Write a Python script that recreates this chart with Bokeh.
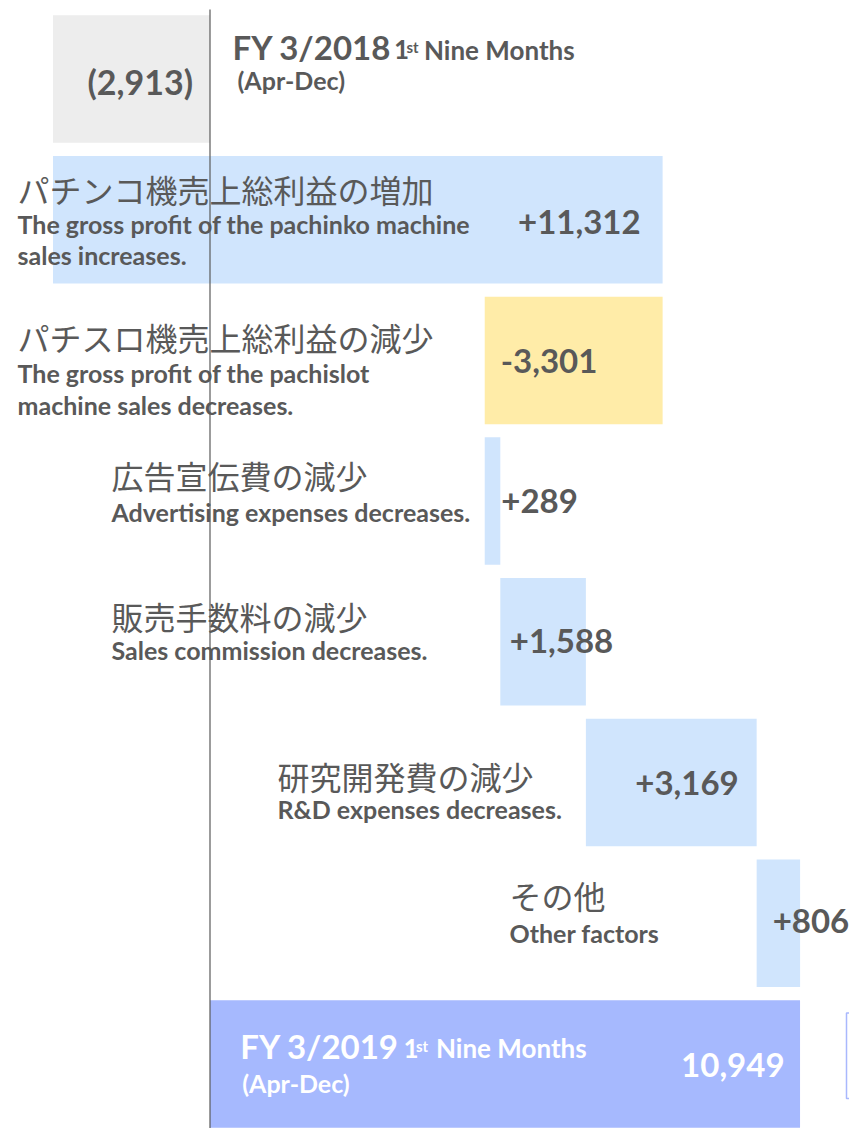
from bokeh.plotting import figure
from bokeh.models import ColumnDataSource, Range1d
from bokeh.core.properties import value
from bokeh.embed import file_html
from bokeh.resources import INLINE

# ---------------- data ----------------
kinds = ["total", "delta", "delta", "delta", "delta", "delta", "delta", "total"]
values = [-2913, 11312, -3301, 289, 1588, 3169, 806, 10949]
value_labels = ["(2,913)", "+11,312", "-3,301", "+289", "+1,588", "+3,169", "+806", "10,949"]
steps_ja = ["", "パチンコ機売上総利益の増加", "パチスロ機売上総利益の減少", "広告宣伝費の減少",
            "販売手数料の減少", "研究開発費の減少", "その他", ""]
steps_en = [[], ["The gross profit of the pachinko machine", "sales increases."],
            ["The gross profit of the pachislot", "machine sales decreases."],
            ["Advertising expenses decreases."], ["Sales commission decreases."],
            ["R&D expenses decreases."], ["Other factors"], []]
period_fy = ["FY 3/2018", "FY 3/2019"]
period_sup = ["1", "st", "Nine Months"]
period_sub = ["(Apr-Dec)", "(Apr-Dec)"]

# ---------------- layout / style ----------------
W, H = 849, 1128
PX = 0.05389            # pixels per unit
ZERO = 209.5            # pixel position of 0
PITCH, FIRST = 140.7, 78.5
GRAY = "#595959"
FONT = value("Lato")
JFONT = value("Noto Sans CJK JP")

def px2x(px):
    return (px - ZERO) / PX

def py2y(py):
    return (py - FIRST) / PITCH

def mid(dy_base, size):
    # convert an alphabetic-baseline offset into a 'middle' offset
    return dy_base - 0.387 * size

# waterfall geometry from the values
lefts, rights = [], []
running = 0
for k, v in zip(kinds, values):
    if k == "total":
        lefts.append(min(0, v)); rights.append(max(0, v)); running = v
    else:
        lefts.append(min(running, running + v)); rights.append(max(running, running + v)); running += v
rows = list(range(len(values)))
colors = []
for i, (k, v) in enumerate(zip(kinds, values)):
    if k == "total":
        colors.append("#ededed" if i == 0 else "#a6b9fe")
    else:
        colors.append("#d0e5fd" if v > 0 else "#ffeca8")

p = figure(width=W, height=H, output_backend="svg", toolbar_location=None,
           x_range=Range1d(px2x(0), px2x(W)),
           y_range=Range1d(py2y(H), py2y(0)),
           x_axis_location=None, y_axis_location=None, min_border=0,
           outline_line_color=None, background_fill_color="white", border_fill_color="white")
p.grid.visible = False

src = ColumnDataSource(dict(y=rows, left=lefts, right=rights, color=colors))
p.hbar(y="y", left="left", right="right", height=127.5 / PITCH, fill_color="color",
       line_color=None, source=src)

# zero line
p.segment(x0=[0], y0=[py2y(9)], x1=[0], y1=[py2y(H)], line_color=GRAY, line_width=1.2)

# decorative frame edge at the lower right
p.quad(left=[px2x(846)], right=[px2x(900)], top=[py2y(1012.5)], bottom=[py2y(1098)],
       fill_color=None, line_color="#a9b8fd", line_width=1.5)

# value labels
VS = 33
v_anchor = ["right", "right", "left", "right", "left", "right", "left", "right"]
v_align = ["right", "right", "left", "left", "left", "right", "left", "right"]
v_dx = [-17, -22, 16, 1, 9.5, -18, 16, -15.5]
v_dy = [15.5, 15, 13.3, 12.4, 12.2, 13, 10.8, 14]
for i in rows:
    ax = rights[i] if v_anchor[i] == "right" else lefts[i]
    p.text(x=[ax], y=[i], text=[value_labels[i]], text_align=v_align[i], text_baseline="middle",
           x_offset=v_dx[i], y_offset=mid(v_dy[i], VS), text_font=FONT, text_font_style="bold",
           text_font_size=f"{VS + (1 if i == 0 else 0)}px",
           text_color="white" if i == len(rows) - 1 else GRAY)

# step labels
ES = 25
lab_px = [None, 17, 17, 111, 111, 277, 509, None]
ja_dy = [0, -30.5, -23, -26, -26, -7, -28, 0]
en_dy = [0, 13.5, 22.5, 21, 18, 36, 19, 0]
for i in rows:
    if not steps_ja[i]:
        continue
    x0 = px2x(lab_px[i])
    p.text(x=[x0], y=[i], text=[steps_ja[i]], text_align="left", text_baseline="middle",
           y_offset=ja_dy[i], text_font=JFONT, text_font_size="32px", text_color=GRAY)
    for k, line in enumerate(steps_en[i]):
        p.text(x=[x0], y=[i], text=[line], text_align="left", text_baseline="middle",
               y_offset=mid(en_dy[i] + 31.5 * k, ES), text_font=FONT, text_font_style="bold",
               text_font_size=f"{ES}px", text_color=GRAY)

# period headers (first and last rows)
hdr_rows = [0, len(rows) - 1]
hdr_color = [GRAY, "white"]
fy_dx = [22.5, 30.2]; fy_dy = [-19, -5.5]
one_dx = [184, 193.5]; st_dx = [196.5, 206]; st_dy = [-25.8, -12.2]; nm_dx = [214, 226]
sub_dx = [27.5, 32.2]; sub_dy = [11, 28.5]
sizes = [33, 26, 15, 26, 25]
for j, r in enumerate(hdr_rows):
    common = dict(x=[0], y=[r], text_align="left", text_baseline="middle", text_font=FONT,
                  text_font_style="bold", text_color=hdr_color[j])
    p.text(text=[period_fy[j]], x_offset=fy_dx[j], y_offset=mid(fy_dy[j], sizes[0]),
           text_font_size=f"{sizes[0]}px", **common)
    p.text(text=[period_sup[0]], x_offset=one_dx[j], y_offset=mid(fy_dy[j], sizes[1]),
           text_font_size=f"{sizes[1]}px", **common)
    p.text(text=[period_sup[1]], x_offset=st_dx[j], y_offset=mid(st_dy[j], sizes[2]),
           text_font_size=f"{sizes[2]}px", **common)
    p.text(text=[period_sup[2]], x_offset=nm_dx[j], y_offset=mid(fy_dy[j], sizes[3]),
           text_font_size=f"{sizes[3]}px", **common)
    p.text(text=[period_sub[j]], x_offset=sub_dx[j], y_offset=mid(sub_dy[j], sizes[4]),
           text_font_size=f"{sizes[4]}px", **common)

open("out.html", "w").write(file_html(p, INLINE))
